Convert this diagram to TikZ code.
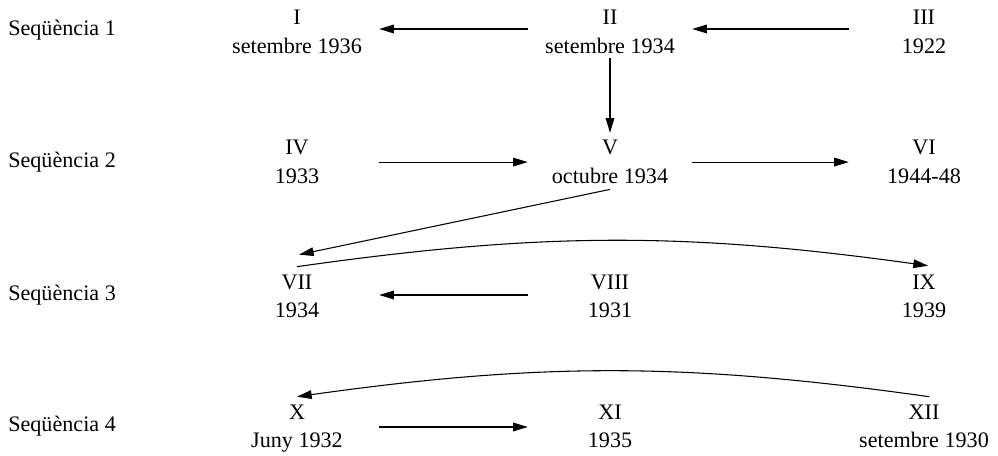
\documentclass[tikz,border=0pt]{standalone}
\usepackage{fontspec}
\setmainfont{Liberation Serif}
\usetikzlibrary{arrows.meta}
\newcommand{\twolines}[2]{\strut #1\\\strut #2}
\begin{document}
\begin{tikzpicture}[x=0.75pt,y=-0.75pt,
  font=\fontsize{16.6}{21.3}\selectfont,
  item/.style={align=center, inner sep=0pt, minimum width=123pt, minimum height=40pt},
  rightcol/.style={item, minimum width=112.5pt},
  seqlabel/.style={anchor=base west, inner sep=0pt},
  arr/.style={line width=0.8pt, -{Triangle[length=11pt,width=6.5pt]}}]
\useasboundingbox (0,0) rectangle (998,456);

% sequence labels
\node[seqlabel] (s1) at (8,36)    {Seqüència 1};
\node[seqlabel] (s2) at (8,167)   {Seqüència 2};
\node[seqlabel] (s3) at (8,300.5) {Seqüència 3};
\node[seqlabel] (s4) at (8,431.5) {Seqüència 4};

% row 1
\node[item] (I)   at (297,33.4) {\twolines{I}{setembre 1936}};
\node[item] (II)  at (610,33.4) {\twolines{II}{setembre 1934}};
\node[rightcol] (III) at (924,33.4) {\twolines{III}{1922}};
% row 2
\node[item] (IV)  at (297,163.4) {\twolines{IV}{1933}};
\node[item] (V)   at (610,163.4) {\twolines{V}{octubre 1934}};
\node[rightcol] (VI)  at (924,163.4) {\twolines{VI}{1944-48}};
% row 3
\node[item] (VII)  at (297,298) {\twolines{VII}{1934}};
\node[item] (VIII) at (610,298) {\twolines{VIII}{1931}};
\node[rightcol] (IX)   at (924,298) {\twolines{IX}{1939}};
% row 4
\node[item] (X)   at (297,428) {\twolines{X}{Juny 1932}};
\node[item] (XI)  at (610,428) {\twolines{XI}{1935}};
\node[rightcol] (XII) at (924,428) {\twolines{XII}{setembre 1930}};

% connectors
\draw[arr] ([yshift=3.3pt]II.west) -- ([yshift=3.3pt]I.east);
\draw[arr] ([yshift=3.3pt]III.west) -- ([yshift=3.3pt]II.east);
\draw[arr] ([yshift=2.85pt]II.south) -- ([yshift=1.5pt]V.north);
\draw[arr] ([yshift=1pt]IV.east) -- ([yshift=1pt]V.west);
\draw[arr] ([yshift=1pt]V.east) -- ([yshift=1pt]VI.west);
\draw[arr] ([yshift=2pt]V.south) -- ([xshift=1.5pt,yshift=11pt]VII.north);
\draw[arr] ([yshift=2pt]VII.north) to[bend left=8] ([xshift=3pt,yshift=2.7pt]IX.north);
\draw[arr] ([yshift=2.25pt]VIII.west) -- ([yshift=2.25pt]VII.east);
\draw[arr] ([yshift=0.75pt]X.east) -- ([yshift=0.75pt]XI.west);
\draw[arr] ([xshift=3.75pt,yshift=2pt]XII.north) to[bend right=8] ([yshift=2pt]X.north);
\end{tikzpicture}
\end{document}
